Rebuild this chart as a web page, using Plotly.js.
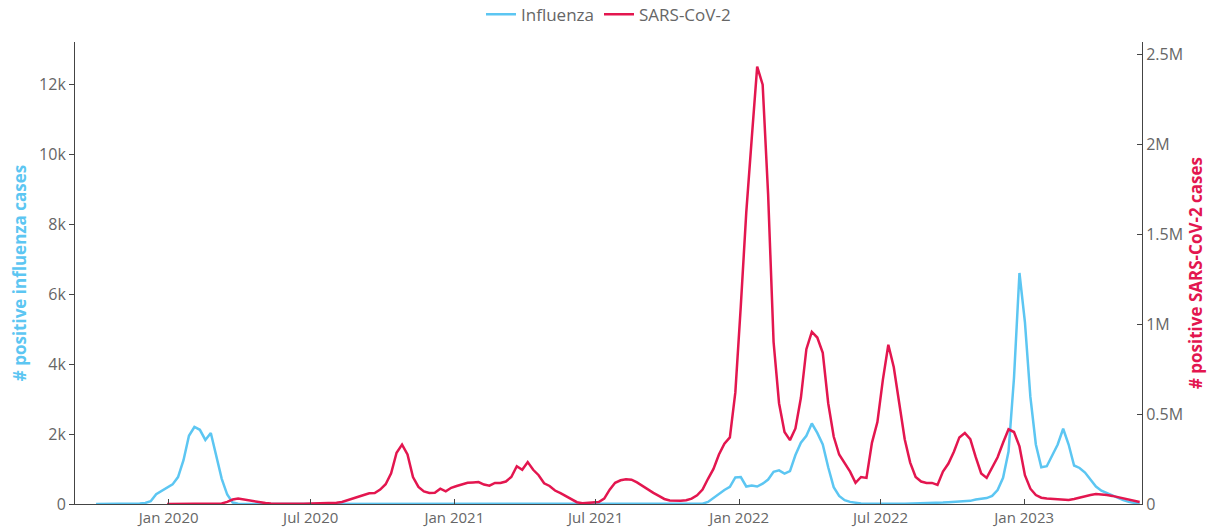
<!DOCTYPE html>
<html>
<head>
<meta charset="utf-8">
<script src="https://cdn.plot.ly/plotly-3.0.1.min.js"></script>
<style>
  html, body { margin: 0; padding: 0; background: #ffffff; }
  #chart { width: 1212px; height: 527px; }
</style>
</head>
<body>
<div id="chart"></div>
<script>
// weekly series, first week starting 2019-09-30
const weekStart = '2019-09-30';
const weekCount = 192;

const influenzaCases = [
  0, 0, 0, 0, 0, 2, 5, 8, 15, 30,
  80, 280, 380, 460, 560, 770, 1250, 1950, 2200, 2120,
  1830, 2030, 1350, 720, 270, 40, 10, 3, 0, 0,
  0, 0, 0, 0, 0, 0, 0, 0, 0, 0,
  0, 0, 0, 0, 0, 0, 0, 0, 0, 0,
  0, 0, 0, 0, 0, 0, 0, 0, 0, 0,
  0, 0, 0, 0, 0, 0, 0, 0, 0, 0,
  0, 0, 0, 0, 0, 0, 0, 0, 0, 0,
  0, 0, 0, 0, 0, 0, 0, 0, 0, 0,
  0, 0, 0, 0, 0, 0, 0, 0, 0, 0,
  0, 0, 0, 0, 0, 0, 0, 0, 0, 0,
  0, 10, 60, 180, 300, 400, 490, 760, 770, 500,
  530, 500, 580, 700, 920, 960, 870, 940, 1400, 1750,
  1950, 2300, 2030, 1700, 1050, 480, 230, 110, 60, 30,
  15, 5, 2, 2, 3, 5, 5, 8, 10, 12,
  15, 20, 22, 25, 30, 40, 50, 60, 70, 80,
  90, 130, 150, 170, 230, 400, 750, 1500, 3600, 6600,
  5200, 3060, 1700, 1050, 1080, 1400, 1700, 2150, 1700, 1100,
  1030, 900, 700, 500, 380, 310, 260, 190, 110, 60,
  25, 5,
];

const covidCases = [
  null, null, null, null, null, null, null, null, null, null,
  null, null, null, 0, 0, 0, 0, 0, 0, 0,
  0, 0, 500, 3000, 12000, 25000, 30000, 25000, 18000, 12000,
  8000, 5000, 3000, 2000, 1500, 1400, 1300, 1400, 1600, 2000,
  2500, 3000, 3500, 4500, 7000, 11000, 20000, 28000, 40000, 50000,
  60000, 61000, 80000, 110000, 170000, 285000, 330000, 275000, 150000, 95000,
  70000, 61000, 62000, 85000, 70000, 90000, 100000, 110000, 118000, 120000,
  122000, 108000, 102000, 117000, 117000, 125000, 150000, 210000, 190000, 233000,
  190000, 160000, 115000, 100000, 75000, 60000, 42000, 25000, 10000, 4000,
  5000, 7000, 11000, 30000, 80000, 118000, 132000, 138000, 135000, 120000,
  100000, 82000, 62000, 45000, 28000, 20000, 17000, 18000, 21000, 30000,
  48000, 80000, 140000, 195000, 275000, 335000, 370000, 620000, 1100000, 1620000,
  2030000, 2430000, 2330000, 1720000, 900000, 560000, 400000, 355000, 420000, 590000,
  860000, 956000, 925000, 840000, 560000, 375000, 275000, 230000, 180000, 118000,
  150000, 145000, 340000, 455000, 690000, 885000, 760000, 560000, 360000, 230000,
  150000, 125000, 117000, 117000, 106000, 180000, 225000, 290000, 370000, 395000,
  360000, 260000, 170000, 145000, 200000, 260000, 340000, 415000, 400000, 320000,
  160000, 85000, 50000, 35000, 30000, 28000, 26000, 24000, 22000, 28000,
  36000, 42000, 50000, 55000, 54000, 50000, 45000, 38000, 30000, 22000,
  16000, 11000,
];

const fluColor = '#5cc6f2';
const covidColor = '#e3164f';
const tickColor = '#666666';

function weeklyDates(start, count) {
  const first = new Date(start + 'T00:00:00Z');
  const dates = [];
  for (let i = 0; i < count; i++) {
    const d = new Date(first.getTime() + i * 7 * 86400000);
    dates.push(d.toISOString().slice(0, 10));
  }
  return dates;
}

const weeks = weeklyDates(weekStart, weekCount);

const traces = [
  {
    x: weeks,
    y: influenzaCases,
    name: 'Influenza',
    type: 'scatter',
    mode: 'lines',
    line: { color: fluColor, width: 2.5 },
    yaxis: 'y',
  },
  {
    x: weeks,
    y: covidCases,
    name: 'SARS-CoV-2',
    type: 'scatter',
    mode: 'lines',
    line: { color: covidColor, width: 2.5 },
    yaxis: 'y2',
  },
];

const layout = {
  width: 1212,
  height: 527,
  margin: { l: 75, r: 70, t: 42, b: 23, autoexpand: false },
  paper_bgcolor: '#ffffff',
  plot_bgcolor: '#ffffff',
  font: { family: 'Open Sans, sans-serif', size: 16, color: tickColor },
  showlegend: true,
  legend: {
    orientation: 'h',
    x: 0.5,
    xanchor: 'center',
    y: 1.02,
    yanchor: 'bottom',
    font: { size: 17, color: tickColor },
  },
  xaxis: {
    type: 'date',
    range: ['2019-09-03', '2023-06-01'],
    tick0: '2020-01-01',
    dtick: 'M6',
    tickformat: '%b %Y',
    tickfont: { size: 15 },
    ticks: 'inside',
    ticklen: 5,
    tickcolor: '#444444',
    showline: true,
    linecolor: '#444444',
    linewidth: 1,
    showgrid: false,
    zeroline: false,
    automargin: false,
  },
  yaxis: {
    range: [0, 13200],
    dtick: 2000,
    ticks: 'outside',
    ticklen: 5,
    tickcolor: '#444444',
    showline: true,
    linecolor: '#444444',
    linewidth: 1,
    showgrid: false,
    zeroline: false,
    automargin: false,
    title: {
      text: '<b># positive influenza cases</b>',
      font: { size: 17, color: fluColor },
      standoff: 8,
    },
  },
  yaxis2: {
    overlaying: 'y',
    side: 'right',
    range: [0, 2567000],
    dtick: 500000,
    ticks: 'inside',
    ticklen: 5,
    tickcolor: '#444444',
    showline: true,
    linecolor: '#444444',
    linewidth: 1,
    showgrid: false,
    zeroline: false,
    automargin: false,
    title: {
      text: '<b># positive SARS-CoV-2 cases</b>',
      font: { size: 17, color: covidColor },
      standoff: 8,
    },
  },
};

Plotly.newPlot('chart', traces, layout, { displayModeBar: false, responsive: false });
</script>
</body>
</html>
